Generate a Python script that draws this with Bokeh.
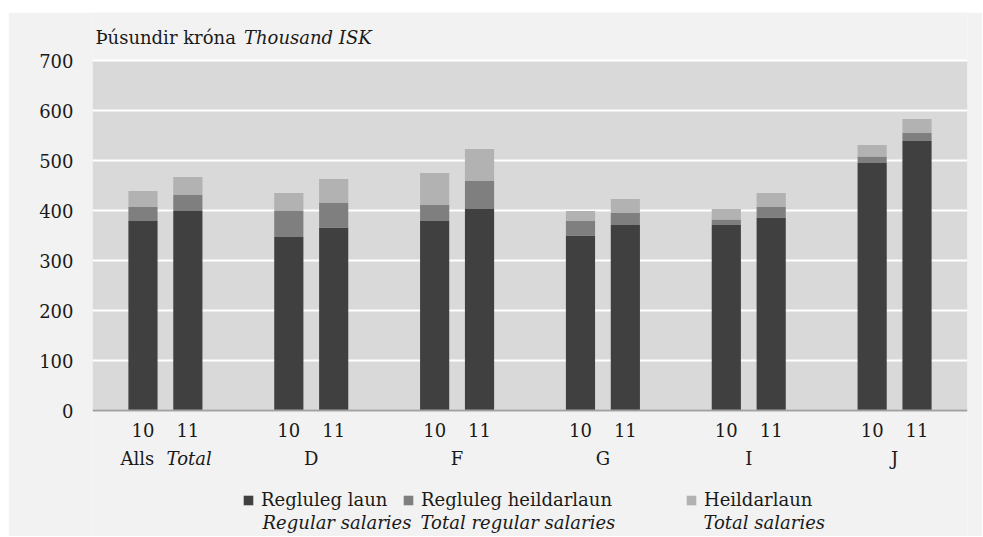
from bokeh.plotting import figure
from bokeh.models import (Range1d, FixedTicker, Label, Legend, LegendItem,
                          ColumnDataSource, BoxAnnotation)
from bokeh.embed import file_html
from bokeh.resources import INLINE

# ---- data (thousand ISK) ----
groups = ["Alls", "D", "F", "G", "I", "J"]
years = ["10", "11"]
regular = [379, 399, 347, 366, 379, 403, 350, 371, 371, 386, 495, 539]
total_regular = [407, 431, 399, 415, 411, 459, 379, 395, 382, 407, 508, 555]
total = [439, 467, 435, 463, 475, 523, 399, 423, 403, 435, 531, 583]
y_ticks = [0, 100, 200, 300, 400, 500, 600, 700]

series_names = ["Regluleg laun", "Regluleg heildarlaun", "Heildarlaun"]
series_names_en = ["Regular salaries", "Total regular salaries", "Total salaries"]
colors = ["#404040", "#7F7F7F", "#B2B2B2"]

FONT = "DejaVu Serif"
TXT = "#1a1a1a"
FS = "18px"

STEP = 6.5
xs, year_lbl = [], []
for gi in range(len(groups)):
    c = gi * STEP + STEP / 2
    for yi, yr in enumerate(years):
        xs.append(c + (-1.0 if yi == 0 else 1.0))
        year_lbl.append(yr)
group_centers = [gi * STEP + STEP / 2 for gi in range(len(groups))]
X_END = STEP * len(groups)

src = ColumnDataSource(dict(x=xs, zero=[0] * len(xs), regular=regular,
                            total_regular=total_regular, total=total))

# the frame spans the whole grey panel so title, group labels and legend
# texts are drawn inside it
p = figure(width=974, height=524, margin=(12, 0, 0, 8),
           x_range=Range1d(0, X_END), y_range=Range1d(-252, 796),
           output_backend="svg", toolbar_location=None,
           min_border_left=84, min_border_right=15,
           min_border_top=0, min_border_bottom=0)
p.background_fill_color = "#F2F2F2"
p.border_fill_color = "#F2F2F2"
p.outline_line_color = None

# plot-area background
p.add_layout(BoxAnnotation(left=0, right=X_END, bottom=0, top=700,
                           fill_color="#D9D9D9", fill_alpha=1,
                           line_color=None, level="image"))

W = 1.3
r1 = p.vbar(x="x", bottom="zero", top="regular", width=W, source=src,
            fill_color=colors[0], line_color=None)
r2 = p.vbar(x="x", bottom="regular", top="total_regular", width=W, source=src,
            fill_color=colors[1], line_color=None)
r3 = p.vbar(x="x", bottom="total_regular", top="total", width=W, source=src,
            fill_color=colors[2], line_color=None)

# grid
p.xgrid.visible = False
p.ygrid.ticker = FixedTicker(ticks=y_ticks)
p.ygrid.grid_line_color = "white"
p.ygrid.grid_line_width = 2

# y axis
p.yaxis.ticker = FixedTicker(ticks=y_ticks)
p.yaxis.axis_line_color = None
p.yaxis.major_tick_line_color = None
p.yaxis.minor_tick_line_color = None
p.yaxis.major_tick_out = 0
p.yaxis.major_label_standoff = 19
p.yaxis.major_label_text_font = FONT
p.yaxis.major_label_text_font_size = FS
p.yaxis.major_label_text_color = TXT

# x axis, fixed at y = 0
p.xaxis.fixed_location = 0
p.xaxis.ticker = FixedTicker(ticks=xs)
p.xaxis.major_label_overrides = {xv: lab for xv, lab in zip(xs, year_lbl)}
p.xaxis.axis_line_color = "#A0A0A0"
p.xaxis.axis_line_width = 2
p.xaxis.major_tick_line_color = None
p.xaxis.minor_tick_line_color = None
p.xaxis.major_label_standoff = 6
p.xaxis.major_label_text_font = FONT
p.xaxis.major_label_text_font_size = FS
p.xaxis.major_label_text_color = TXT

def lab(text, x, y, align="left", style="normal"):
    p.add_layout(Label(x=x, y=y, text=text, text_font=FONT, text_font_size=FS,
                       text_color=TXT, text_align=align, text_font_style=style,
                       text_baseline="alphabetic"))

# unit title
lab("Þúsundir króna", 0.13, 746)
lab("Thousand ISK", 6.75, 746, style="italic")

# group labels
for gi, g in enumerate(groups):
    c = group_centers[gi]
    if g == "Alls":
        lab("Alls", c - 0.5, -96, align="right")
        lab("Total", c + 0.05, -96, style="italic")
    else:
        lab(g, c, -96, align="center")

# legends
leg_x = [150, 310, 593]
en_x = [7.58, 14.62, 27.23]
for i, r in enumerate([r1, r2, r3]):
    leg = Legend(items=[LegendItem(label=series_names[i], renderers=[r])],
                 location=(leg_x[i], 26), padding=0, margin=0, spacing=0,
                 glyph_width=12, glyph_height=12, label_standoff=7,
                 border_line_alpha=0, background_fill_alpha=0,
                 label_text_font=FONT, label_text_font_size=FS,
                 label_text_color=TXT)
    p.add_layout(leg)
    lab(series_names_en[i], en_x[i], -224, style="italic")

open("out.html", "w").write(file_html(p, INLINE))
